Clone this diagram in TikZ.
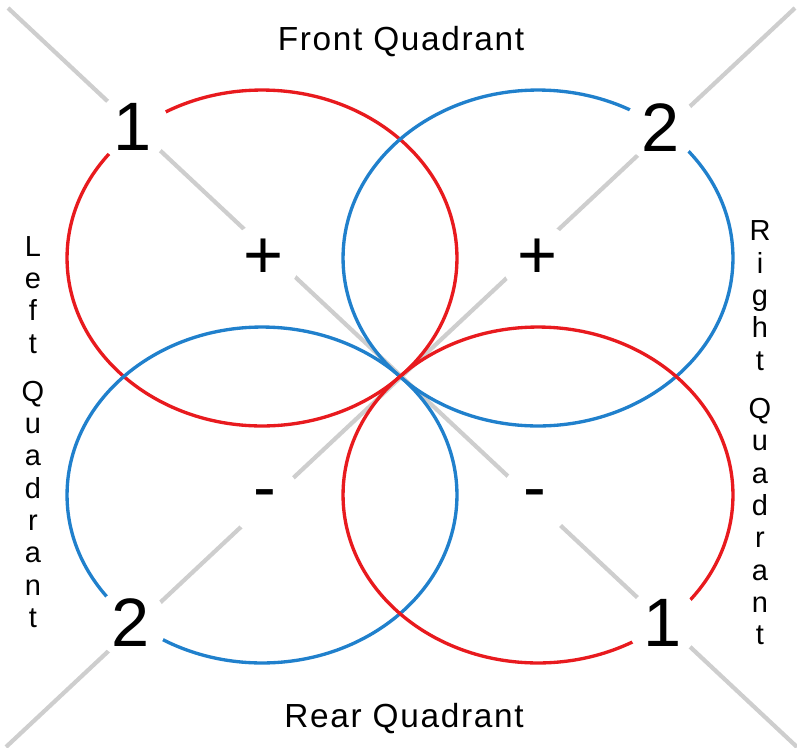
\documentclass[tikz,border=0pt]{standalone}
\usepackage{fontspec}
\setmainfont{Liberation Sans}
\definecolor{lobered}{RGB}{232,26,30}
\definecolor{lobeblue}{RGB}{32,128,204}
\definecolor{axisgray}{RGB}{206,206,206}
\begin{document}
\begin{tikzpicture}[x=0.02cm,y=-0.02cm,
  lobe/.style={line width=1.9pt},
  axis/.style={axisgray,line width=2.4pt},
  sign/.style={circle,fill=white,inner sep=0pt,minimum size=1.44cm,
    font=\fontsize{39}{39}\selectfont},
  side/.style={align=center,font=\fontsize{16.5}{18.4}\selectfont},
  quadname/.style={anchor=base,font=\fontsize{19}{19}\selectfont\addfontfeature{LetterSpace=5}}]
  \useasboundingbox (0,0) rectangle (797,747);
  \coordinate (tl) at (8,8);
  \coordinate (br) at (797,747);
  \coordinate (tr) at (795,8);
  \coordinate (bl) at (6,747);
  \draw[axis] (tl) -- (br);
  \draw[axis] (tr) -- (bl);
  \draw[lobe,lobered] (262,258) ellipse [x radius=3.9cm, y radius=3.36cm];
  \draw[lobe,lobeblue] (538,258) ellipse [x radius=3.9cm, y radius=3.36cm];
  \draw[lobe,lobeblue] (262,495) ellipse [x radius=3.9cm, y radius=3.36cm];
  \draw[lobe,lobered] (538,495) ellipse [x radius=3.9cm, y radius=3.36cm];
  \node[sign] (one a) at (133,127) {1};
  \node[sign] (two a) at (661,128) {2};
  \node[sign] (two b) at (131,623) {2};
  \node[sign] (one b) at (663,623) {1};
  \node[sign] (plus a) at (264,259) {+};
  \node[sign] (plus b) at (537,259) {+};
  \node[sign] (minus a) at (265,500) {-};
  \node[sign] (minus b) at (535,500) {-};
  \node[quadname] (front) at (401,50) {Front Quadrant};
  \node[quadname] (rear) at (404,727) {Rear Quadrant};
  \node[side] (left) at (33,432) {L\\e\\f\\t\\[9pt]Q\\u\\a\\d\\r\\a\\n\\t};
  \node[side] (right) at (760,433) {R\\i\\g\\h\\t\\[9pt]Q\\u\\a\\d\\r\\a\\n\\t};
\end{tikzpicture}
\end{document}
